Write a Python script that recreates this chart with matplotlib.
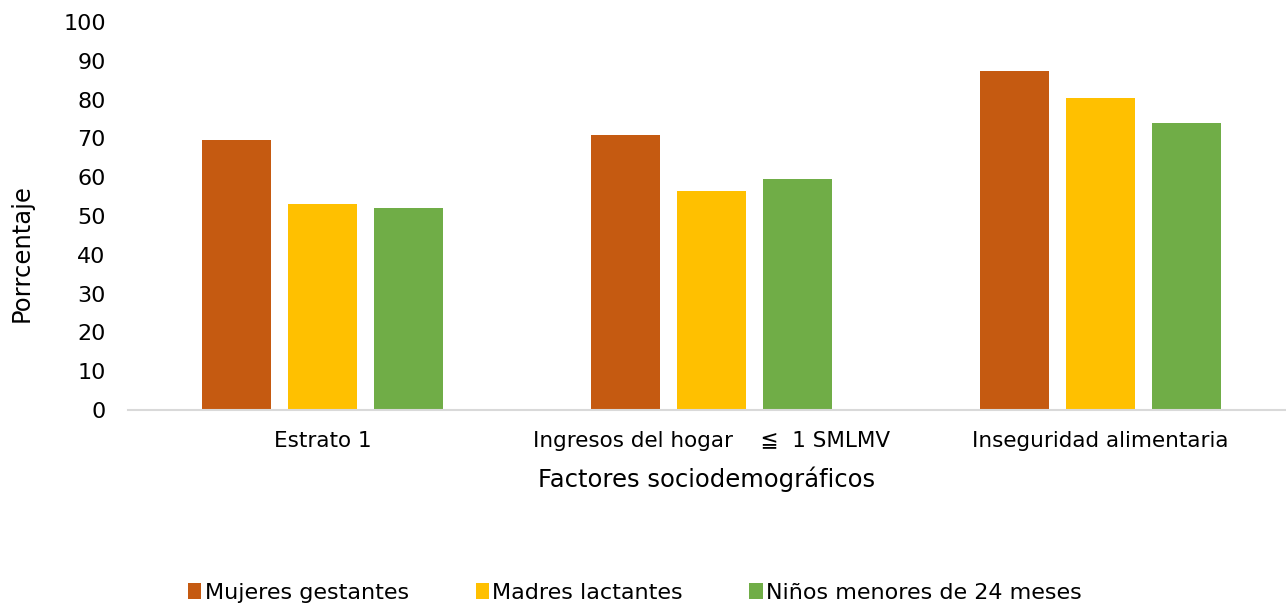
import numpy as np
import matplotlib
matplotlib.use('Agg')
import matplotlib.pyplot as plt

# datos
categorias = ['Estrato 1', 'Ingresos del hogar    \u2266  1 SMLMV', 'Inseguridad alimentaria']
series = ['Mujeres gestantes', 'Madres lactantes', 'Niños menores de 24 meses']
mujeres = [69.5, 71.0, 87.5]
madres = [53.0, 56.5, 80.5]
ninos = [52.0, 59.5, 74.0]
colores = ['#C55A11', '#FFC000', '#70AD47']

plt.rcParams['font.family'] = ['DejaVu Sans']

fig = plt.figure(figsize=(12.86, 6.06), dpi=100)
ax = fig.add_axes([128/1286, 1 - 410/606, 1158/1286, 388/606])

x = np.arange(len(categorias))
ancho = 0.175
paso = 0.221
for i, (vals, nombre) in enumerate(zip([mujeres, madres, ninos], series)):
    ax.bar(x + (i - 1) * paso, vals, ancho, color=colores[i], label=nombre)

ax.set_xlim(-0.5, -0.5 + 1158/389)
ax.set_ylim(0, 100)
ax.set_yticks(range(0, 101, 10))
ax.set_xticks(x)
ax.set_xticklabels(categorias, fontsize=15.5)
ax.tick_params(axis='y', labelsize=16, length=0, pad=16)
ax.tick_params(axis='x', length=0, pad=15)
for s in ['top', 'right', 'left']:
    ax.spines[s].set_visible(False)
ax.spines['bottom'].set_color('#D9D9D9')
ax.spines['bottom'].set_linewidth(1.5)

ax.set_xlabel('Factores sociodemográficos', fontsize=17.5, labelpad=11)
fig.text(22/1286, 1 - 253/606, 'Porrcentaje', rotation=90, fontsize=17.5,
         ha='center', va='center')

fig.legend(loc='center', bbox_to_anchor=(635/1286, 1 - 593/606), ncol=3, frameon=False,
           fontsize=16, handlelength=0.6, handleheight=0.7, handletextpad=0.15,
           columnspacing=3.0)

fig.savefig('out.png', dpi=100)
